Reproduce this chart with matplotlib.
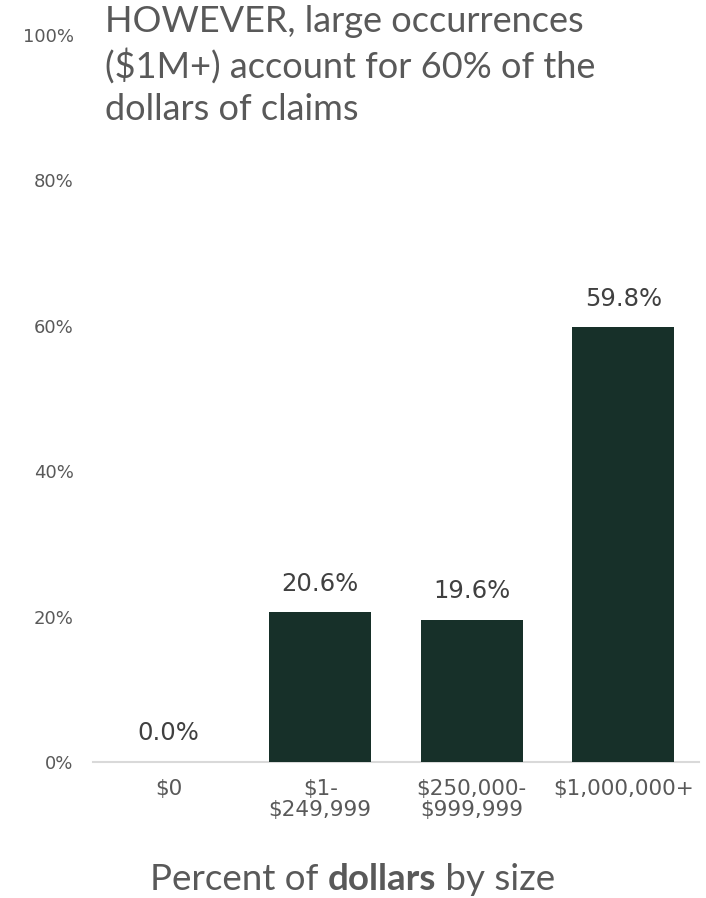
import matplotlib
matplotlib.use('Agg')
import matplotlib.pyplot as plt
from matplotlib.ticker import PercentFormatter

# data
CATEGORIES = [r'\$0', '\\$1-\n\\$249,999', '\\$250,000-\n\\$999,999', r'\$1,000,000+']
SHARE      = [0.0, 20.6, 19.6, 59.8]      # percent of dollars
Y_TICKS    = [0, 20, 40, 60, 80, 100]

TITLE = 'HOWEVER, large occurrences\n(\\$1M+) account for 60% of the\ndollars of claims'
XLABEL_PARTS = [('Percent of ', 'normal'), ('dollars', 'bold'), (' by size', 'normal')]

BAR_COLOR  = '#173029'
GREY_TEXT  = '#595959'
LABEL_TEXT = '#404040'
HEAD_FONT  = 'Lato'

plt.rcParams['font.family'] = 'DejaVu Sans'

fig = plt.figure(figsize=(7.06, 8.98), dpi=100)
ax = fig.add_axes([93 / 706, 1 - 762 / 898, 606 / 706, 727 / 898])

x = range(len(CATEGORIES))
bars = ax.bar(x, SHARE, width=0.67, color=BAR_COLOR, zorder=3)
for b, v in zip(bars, SHARE):
    ax.annotate(f'{v:.1f}%', (b.get_x() + b.get_width() / 2, v),
                xytext=(0, 12), textcoords='offset points',
                ha='center', va='bottom', fontsize=17.5, color=LABEL_TEXT)

ax.set_xlim(-0.5, 3.5)
ax.set_ylim(0, 100)
ax.set_yticks(Y_TICKS)
ax.yaxis.set_major_formatter(PercentFormatter(decimals=0))
ax.set_xticks(list(x))
ax.set_xticklabels(CATEGORIES, fontsize=15.5, color=GREY_TEXT, linespacing=1.1)
ax.tick_params(axis='y', length=0, pad=14, labelsize=13, labelcolor=GREY_TEXT)
ax.tick_params(axis='x', length=0, pad=12)
for s in ['top', 'right', 'left']:
    ax.spines[s].set_visible(False)
ax.spines['bottom'].set_color('#d9d9d9')
ax.spines['bottom'].set_linewidth(1.5)

fig.text(105 / 706, 1 - 5 / 898, TITLE, ha='left', va='top',
         fontsize=26, color=GREY_TEXT, family=HEAD_FONT, linespacing=1.33)

# bottom label with one bold word: lay the pieces side by side
renderer = fig.canvas.get_renderer()
pieces = [fig.text(0, 1 - 890 / 898, s, ha='left', va='baseline', fontsize=26.5,
                   weight=w, color=GREY_TEXT, family=HEAD_FONT)
          for s, w in XLABEL_PARTS]
widths = [p.get_window_extent(renderer).width for p in pieces]
left = (fig.bbox.width - sum(widths)) / 2
for p, w in zip(pieces, widths):
    p.set_x(left / fig.bbox.width)
    left += w

fig.savefig('out.png', dpi=100)
